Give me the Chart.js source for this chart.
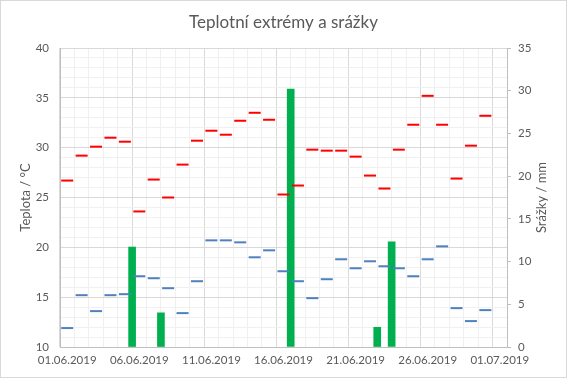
<!DOCTYPE html>
<html>
<head>
<meta charset="utf-8">
<script src="https://cdn.jsdelivr.net/npm/chart.js@4"></script>
<style>
  html, body { margin: 0; padding: 0; background: #fff; }
  #wrap { width: 567px; height: 378px; }
</style>
</head>
<body>
<div id="wrap"><canvas id="tempChart" width="567" height="378"></canvas></div>
<script>
const FONT = "Lato, 'Noto Sans', sans-serif";
const TEXT = '#595959';

// denní data, červen 2019
const startDay = new Date(2019, 5, 1);
const maxTemp = [26.7, 29.2, 30.1, 31.0, 30.6, 23.6, 26.8, 25.0, 28.3, 30.7,
                 31.7, 31.3, 32.7, 33.5, 32.8, 25.3, 26.2, 29.8, 29.7, 29.7,
                 29.1, 27.2, 25.9, 29.8, 32.3, 35.2, 32.3, 26.9, 30.2, 33.2];
const minTemp = [11.9, 15.2, 13.6, 15.2, 15.3, 17.1, 16.9, 15.9, 13.4, 16.6,
                 20.7, 20.7, 20.5, 19.0, 19.7, 17.6, 16.6, 14.9, 16.8, 18.8,
                 17.9, 18.6, 18.1, 17.9, 17.1, 18.8, 20.1, 13.9, 12.6, 13.7];
const rain = [0, 0, 0, 0, 11.7, 0, 4.0, 0, 0, 0,
              0, 0, 0, 0, 0, 30.2, 0, 0, 0, 0,
              0, 2.3, 12.3, 0, 0, 0, 0, 0, 0, 0];

function dayLabel(n) {
    let d = new Date(startDay.getTime());
    d.setDate(d.getDate() + n);
    let dd = String(d.getDate()).padStart(2, '0');
    let mm = String(d.getMonth() + 1).padStart(2, '0');
    return dd + '.' + mm + '.' + d.getFullYear();
}

let maxPts = maxTemp.map((v, i) => ({x: i, y: v}));
let minPts = minTemp.map((v, i) => ({x: i, y: v}));
// sloupce srážek sedí mezi značkami dnů
let rainPts = [];
rain.forEach((v, i) => { if (v > 0) rainPts.push({x: i + 0.5, y: v}); });

function gridColor(ctx) {
    if (ctx.tick && ctx.tick.value % 5 === 0) return '#d9d9d9';
    return '#f0f0f0';
}

const framePlugin = {
    id: 'frame',
    beforeDraw(chart) {
        let c = chart.ctx;
        c.save();
        c.fillStyle = '#fff';
        c.fillRect(0, 0, chart.width, chart.height);
        c.strokeStyle = '#d9d9d9';
        c.lineWidth = 1;
        c.strokeRect(0.5, 0.5, chart.width - 1, chart.height - 1);
        c.restore();
    },
    afterDraw(chart) {
        // popisek pravé osy, čtený zdola nahoru
        let c = chart.ctx;
        let area = chart.chartArea;
        c.save();
        c.translate(542, (area.top + area.bottom) / 2);
        c.rotate(-Math.PI / 2);
        c.fillStyle = TEXT;
        c.font = '13px ' + FONT;
        c.textAlign = 'center';
        c.textBaseline = 'middle';
        c.fillText('Srážky / mm', 0, 0);
        c.restore();
    }
};

const config = {
    data: {
        datasets: [{
            type: 'line',
            label: 'Max. teplota',
            data: maxPts,
            yAxisID: 'y',
            showLine: false,
            pointStyle: 'line',
            pointRadius: 6,
            pointHoverRadius: 6,
            pointBorderWidth: 2,
            pointBorderColor: '#ff0000',
            borderColor: '#ff0000',
            clip: false,
            order: 1
        }, {
            type: 'line',
            label: 'Min. teplota',
            data: minPts,
            yAxisID: 'y',
            showLine: false,
            pointStyle: 'line',
            pointRadius: 6,
            pointHoverRadius: 6,
            pointBorderWidth: 2,
            pointBorderColor: '#4f81bd',
            borderColor: '#4f81bd',
            clip: false,
            order: 1
        }, {
            type: 'bar',
            label: 'Srážky',
            data: rainPts,
            yAxisID: 'y2',
            backgroundColor: '#00b050',
            barThickness: 7,
            order: 2
        }]
    },
    options: {
        responsive: false,
        animation: false,
        layout: { padding: 0 },
        plugins: {
            legend: { display: false },
            tooltip: { enabled: false },
            title: {
                display: true,
                text: 'Teplotní extrémy a srážky',
                color: TEXT,
                font: { family: FONT, size: 17, weight: 'normal' },
                padding: { top: 12, bottom: 15.6 }
            }
        },
        scales: {
            x: {
                type: 'linear',
                min: 0,
                max: 30,
                afterFit(s) { s.height = 31; },
                ticks: {
                    stepSize: 1,
                    autoSkip: false,
                    maxRotation: 0,
                    padding: 6,
                    color: TEXT,
                    font: { family: FONT, size: 11.5 },
                    callback: v => (v % 5 === 0 ? dayLabel(v) : '')
                },
                grid: { color: gridColor, drawTicks: false },
                border: { color: '#bfbfbf' }
            },
            y: {
                position: 'left',
                min: 10,
                max: 40,
                afterFit(s) { s.width = 60; },
                title: {
                    display: true,
                    text: 'Teplota / °C',
                    color: TEXT,
                    font: { family: FONT, size: 13 },
                    padding: { top: 18 }
                },
                ticks: {
                    stepSize: 1,
                    autoSkip: false,
                    padding: 11,
                    color: TEXT,
                    font: { family: FONT, size: 11.5 },
                    callback: v => (v % 5 === 0 ? v : '')
                },
                grid: { color: gridColor, drawTicks: false },
                border: { color: '#bfbfbf' }
            },
            y2: {
                position: 'right',
                min: 0,
                max: 35,
                afterFit(s) { s.width = 60; },
                ticks: {
                    stepSize: 5,
                    padding: 7,
                    color: TEXT,
                    font: { family: FONT, size: 11.5 }
                },
                grid: { drawOnChartArea: false, tickLength: 4, color: '#bfbfbf' },
                border: { color: '#bfbfbf' }
            }
        }
    },
    plugins: [framePlugin]
};

var tempChart = new Chart(document.getElementById('tempChart'), config);
</script>
</body>
</html>
